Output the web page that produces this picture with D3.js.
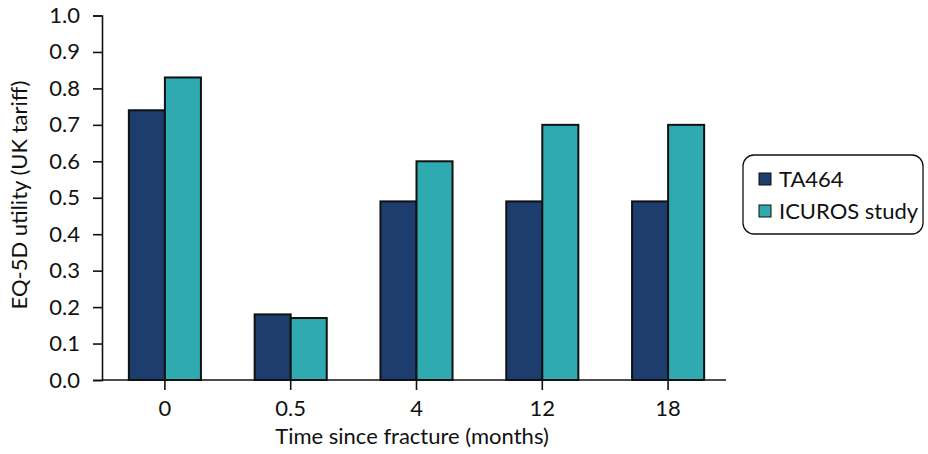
<!DOCTYPE html>
<html>
<head>
<meta charset="utf-8">
<title>EQ-5D utility by time since fracture</title>
<script src="https://d3js.org/d3.v7.min.js"></script>
<style>
  body { margin: 0; background: #fff; }
  text { font-family: Lato, "Open Sans", sans-serif; fill: #111; }
  .axis path, .axis line { stroke: #111; stroke-width: 1.6px; }
  .axis text { font-size: 22px; }
</style>
</head>
<body>
<script>
// chart data
var categories = ["0", "0.5", "4", "12", "18"];
var seriesNames = ["TA464", "ICUROS study"];
var ta464 = [0.74, 0.18, 0.49, 0.49, 0.49];
var icuros = [0.83, 0.17, 0.60, 0.70, 0.70];
var yTicks = [0.0, 0.1, 0.2, 0.3, 0.4, 0.5, 0.6, 0.7, 0.8, 0.9, 1.0];
var colors = ["#1c3d6e", "#2eaab0"];

var width = 928, height = 454;
var margin = {top: 15.5, left: 102, bottom: 380, right: 731};

var svg = d3.select("body").append("svg")
    .attr("width", width)
    .attr("height", height);

// scales
var x = d3.scaleBand()
    .domain(categories)
    .range([margin.left, margin.right])
    .paddingInner(0.427)
    .paddingOuter(0.2135);

var xSub = d3.scaleBand()
    .domain(seriesNames)
    .range([0, x.bandwidth()]);

var y = d3.scaleLinear()
    .domain([0, 1])
    .range([margin.bottom, margin.top]);

var series = [ta464, icuros];

// bars
seriesNames.forEach(function(name, si) {
    svg.append("g")
        .selectAll("rect")
        .data(series[si])
        .enter().append("rect")
        .attr("x", function(d, i) { return x(categories[i]) + xSub(name); })
        .attr("y", function(d) { return y(d); })
        .attr("width", xSub.bandwidth())
        .attr("height", function(d) { return y(0) - y(d); })
        .attr("fill", colors[si])
        .attr("stroke", "#111")
        .attr("stroke-width", 2);
});

// y axis
var yAxis = d3.axisLeft(y)
    .tickValues(yTicks)
    .tickFormat(d3.format(".1f"))
    .tickSizeOuter(0)
    .tickSize(9)
    .tickPadding(13);

svg.append("g")
    .attr("class", "axis")
    .attr("transform", "translate(" + margin.left + ",0)")
    .call(yAxis);

// x axis
var xAxis = d3.axisBottom(x)
    .tickSizeOuter(0)
    .tickSize(10)
    .tickPadding(10);

var gx = svg.append("g")
    .attr("class", "axis")
    .attr("transform", "translate(0," + margin.bottom + ")")
    .call(xAxis);
gx.select(".domain").attr("d", "M" + margin.left + ",0H726");

// axis titles
svg.append("text")
    .attr("x", 412)
    .attr("y", 444)
    .attr("text-anchor", "middle")
    .style("font-size", "22px")
    .text("Time since fracture (months)");

svg.append("text")
    .attr("transform", "translate(27,195) rotate(-90)")
    .attr("text-anchor", "middle")
    .style("font-size", "22px")
    .text("EQ-5D utility (UK tariff)");

// legend
var legend = svg.append("g").attr("transform", "translate(743,155)");
legend.append("rect")
    .attr("width", 180)
    .attr("height", 79)
    .attr("rx", 11)
    .attr("fill", "#fff")
    .attr("stroke", "#111")
    .attr("stroke-width", 1.3);

seriesNames.forEach(function(name, i) {
    var row = legend.append("g").attr("transform", "translate(16," + (24 + i * 32) + ")");
    row.append("rect")
        .attr("x", 0)
        .attr("y", -6)
        .attr("width", 12)
        .attr("height", 12)
        .attr("fill", colors[i])
        .attr("stroke", "#111")
        .attr("stroke-width", 1);
    row.append("text")
        .attr("x", 20)
        .attr("dy", "0.35em")
        .style("font-size", "22px")
        .text(name);
});
</script>
</body>
</html>
